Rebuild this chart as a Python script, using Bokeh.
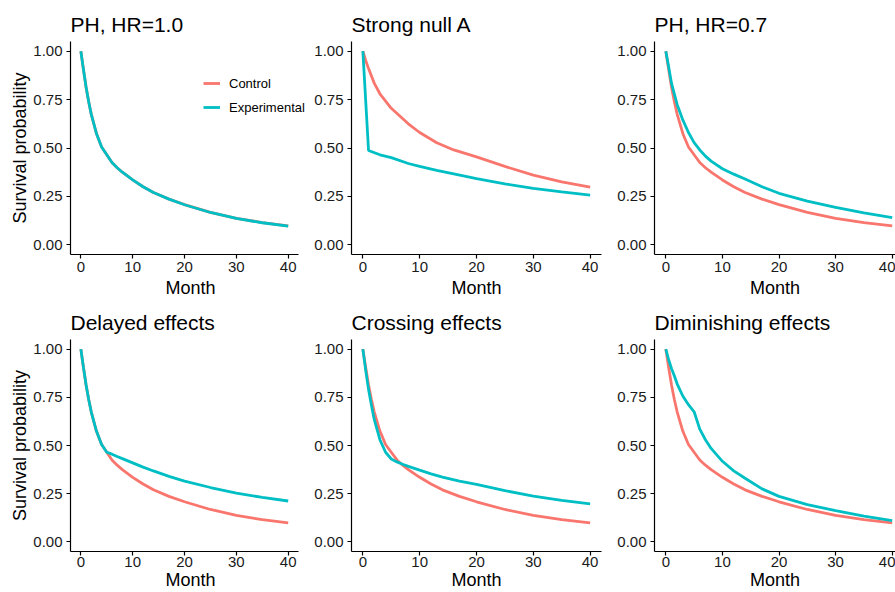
from bokeh.plotting import figure
from bokeh.models import Range1d, FixedTicker, Legend, LegendItem
from bokeh.layouts import row, column
from bokeh.embed import file_html
from bokeh.resources import INLINE

# ---------------- data ----------------
panel_titles = ["PH, HR=1.0", "Strong null A", "PH, HR=0.7",
                "Delayed effects", "Crossing effects", "Diminishing effects"]
series_names = ["Control", "Experimental"]
x_ticks = [0, 10, 20, 30, 40]
y_ticks = [0.0, 0.25, 0.5, 0.75, 1.0]
y_tick_labels = ["0.00", "0.25", "0.50", "0.75", "1.00"]
x_label = "Month"
y_label = "Survival probability"

month = [0, 0.5, 1, 1.5, 2, 3, 4, 5, 6, 7, 8, 10, 12, 14, 17, 20, 25, 30, 35, 40]

control_base = [1.0, 0.905, 0.815, 0.74, 0.675, 0.575, 0.505, 0.465, 0.425, 0.398,
                0.375, 0.335, 0.30, 0.27, 0.236, 0.208, 0.168, 0.137, 0.115, 0.098]

exp_ph10 = [1.0, 0.905, 0.815, 0.74, 0.675, 0.575, 0.505, 0.465, 0.425, 0.398,
            0.375, 0.335, 0.30, 0.27, 0.236, 0.207, 0.167, 0.136, 0.114, 0.097]

nullA_month_ctrl = [0, 0.5, 1, 2, 3, 5, 8, 10, 13, 16, 20, 25, 30, 35, 40]
nullA_ctrl = [1.0, 0.952, 0.91, 0.835, 0.78, 0.705, 0.625, 0.58, 0.527, 0.49,
              0.454, 0.405, 0.36, 0.325, 0.298]
nullA_month_exp = [0, 1, 3, 5, 8, 10, 13, 16, 20, 25, 30, 35, 40]
nullA_exp = [1.0, 0.487, 0.465, 0.45, 0.42, 0.405, 0.384, 0.366, 0.342, 0.315,
             0.292, 0.273, 0.257]

exp_ph07 = [1.0, 0.92, 0.835, 0.78, 0.725, 0.645, 0.58, 0.528, 0.49, 0.458,
            0.432, 0.393, 0.365, 0.34, 0.30, 0.266, 0.226, 0.193, 0.165, 0.141]

exp_delayed = [1.0, 0.905, 0.815, 0.74, 0.675, 0.575, 0.505, 0.465, 0.455, 0.443,
               0.432, 0.41, 0.388, 0.368, 0.34, 0.315, 0.282, 0.253, 0.231, 0.212]

exp_crossing = [1.0, 0.89, 0.79, 0.71, 0.635, 0.53, 0.465, 0.43, 0.415, 0.403,
                0.392, 0.372, 0.353, 0.336, 0.315, 0.298, 0.266, 0.237, 0.215, 0.197]

exp_diminishing = [1.0, 0.945, 0.9, 0.862, 0.82, 0.757, 0.712, 0.675, 0.585, 0.53,
                   0.485, 0.418, 0.368, 0.33, 0.275, 0.236, 0.193, 0.162, 0.134, 0.11]

panel_data = [
    ((month, control_base), (month, exp_ph10)),
    ((nullA_month_ctrl, nullA_ctrl), (nullA_month_exp, nullA_exp)),
    ((month, control_base), (month, exp_ph07)),
    ((month, control_base), (month, exp_delayed)),
    ((month, control_base), (month, exp_crossing)),
    ((month, control_base), (month, exp_diminishing)),
]

# ---------------- style ----------------
COLORS = ["#F8766D", "#00BFC4"]
FONT = "Liberation Sans"
INK = "#000000"

# per column: (canvas width, border left, border right, x end, axis bounds)
col_geom = [(310, 70, 0, 44.3, (-2, 42)),
            (300, 41, 9, 42.0, "auto"),
            (285, 44, 0, 40.58, "auto")]
# per row: (canvas height, border top, border bottom,
#           tick label standoff, axis label standoff)
row_geom = [(301, 41, 47, 3, 3), (291, 38, 40, 1, 0)]


def make_panel(i):
    r, c = divmod(i, 3)
    w, bl, br, xend, xbounds = col_geom[c]
    h, bt, bb, tls, xls = row_geom[r]
    p = figure(width=w, height=h, output_backend="svg", toolbar_location=None,
               x_range=Range1d(-2, xend), y_range=Range1d(-0.05, 1.05),
               min_border_left=bl, min_border_right=br,
               min_border_top=bt, min_border_bottom=bb,
               title=panel_titles[i])
    p.outline_line_color = None
    p.grid.visible = False
    p.background_fill_color = "white"
    p.border_fill_color = "white"

    p.title.text_font = FONT
    p.title.text_font_size = "21px"
    p.title.text_font_style = "normal"
    p.title.text_color = INK
    p.title.align = "left"
    p.title.standoff = 11

    for ax in (p.xaxis[0], p.yaxis[0]):
        ax.axis_line_color = INK
        ax.axis_line_width = 1.2
        ax.major_tick_line_color = INK
        ax.major_tick_line_width = 1.2
        ax.major_tick_out = 4
        ax.major_tick_in = 0
        ax.minor_tick_line_color = None
        ax.major_label_text_font = FONT
        ax.major_label_text_font_size = "15px"
        ax.major_label_text_color = "#1a1a1a"
        ax.axis_label_text_font = FONT
        ax.axis_label_text_font_size = "18px"
        ax.axis_label_text_font_style = "normal"
        ax.axis_label_text_color = INK

    p.xaxis.ticker = FixedTicker(ticks=x_ticks)
    p.xaxis.bounds = xbounds
    p.xaxis.axis_label = x_label
    p.xaxis.major_label_standoff = tls
    p.xaxis.axis_label_standoff = xls

    p.yaxis.ticker = FixedTicker(ticks=y_ticks)
    p.yaxis.major_label_overrides = {t: s for t, s in zip(y_ticks, y_tick_labels)}
    p.yaxis.major_label_standoff = 4
    if c == 0:
        p.yaxis.axis_label = y_label
        p.yaxis.axis_label_standoff = 0

    renderers = []
    for k, (xs, ys) in enumerate(panel_data[i]):
        rr = p.line(xs, ys, line_color=COLORS[k], line_width=2.8)
        renderers.append(rr)

    if i == 0:
        legend = Legend(items=[LegendItem(label=series_names[k], renderers=[renderers[k]])
                               for k in range(2)],
                        location=(133, 135))
        legend.background_fill_alpha = 0
        legend.border_line_alpha = 0
        legend.padding = 0
        legend.margin = 0
        legend.spacing = 0
        legend.glyph_width = 17
        legend.glyph_height = 24
        legend.label_height = 24
        legend.label_standoff = 9
        legend.label_text_font = FONT
        legend.label_text_font_size = "13px"
        legend.label_text_color = INK
        p.add_layout(legend)
    return p


panels = [make_panel(i) for i in range(6)]
layout = column(row(*panels[:3]), row(*panels[3:]))

open("out.html", "w").write(file_html(layout, INLINE))
